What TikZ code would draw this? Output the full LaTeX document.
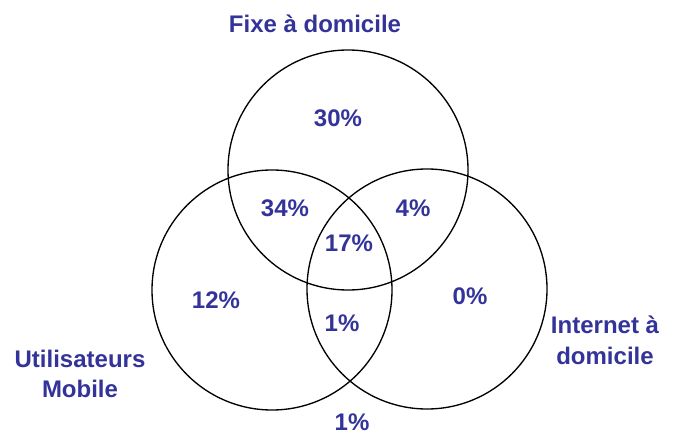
\documentclass[tikz,border=0pt]{standalone}
\usepackage{fontspec}
\setmainfont{Liberation Sans}
\usepackage{tikz}
\definecolor{labelblue}{RGB}{51, 51, 153}

\begin{document}
\begin{tikzpicture}[
        x=0.75pt, y=-0.75pt,
        set/.style = {draw, black, line width=1pt, circle, minimum size=180pt, inner sep=0pt},
        pct/.style = {labelblue, font=\fontsize{18}{23}\selectfont\bfseries, inner sep=0pt},
        title/.style = {labelblue, font=\fontsize{18}{23}\selectfont\bfseries, align=center, inner sep=0pt}
    ]
        \useasboundingbox (0,0) rectangle (677,434);
        % Sets
        \node [set] (fixe) at (348,170) {};
        \node [set] (mobile) at (272,290) {};
        \node [set] (internet) at (427,289) {};

        % Set names
        \node [title] (fixelbl) at (315,24) {Fixe à domicile};
        \node [title] (mobilelbl) at (80,374) {Utilisateurs\\Mobile};
        \node [title] (internetlbl) at (605,340) {Internet à\\domicile};

        % Shares
        \node [pct] (onlyfixe) at (338,118) {30\%};
        \node [pct] (fixemobile) at (285,208) {34\%};
        \node [pct] (fixeinternet) at (413,208) {4\%};
        \node [pct] (all) at (349,243) {17\%};
        \node [pct] (onlymobile) at (216,300) {12\%};
        \node [pct] (onlyinternet) at (470,296) {0\%};
        \node [pct] (mobileinternet) at (342,323) {1\%};
        \node [pct] (none) at (352,422) {1\%};
    \end{tikzpicture}
\end{document}
